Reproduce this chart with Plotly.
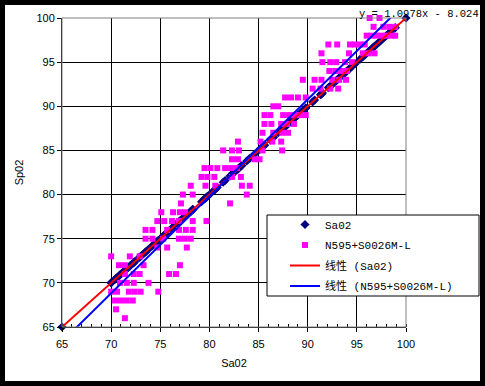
import plotly.graph_objects as go

# ---------------- data ----------------
# N595+S0026M-L : x = Sa02 reference value, y = SpO2 reading
n595_sa02 = [
    96.3, 97.3,
    96.7, 97.7, 98.3, 98.9,
    96.0, 96.5, 97.0, 97.5, 98.0, 98.5, 98.9,
    92.1, 93.0, 94.3, 94.8, 95.3, 95.8,
    91.4, 94.2, 95.6, 96.2, 96.8,
    91.5, 92.3, 92.9, 93.8, 94.5,
    92.2, 92.8, 93.4, 94.0,
    89.5, 90.7, 91.4, 92.5, 93.2, 93.9,
    90.5, 91.3, 92.3, 93.1,
    87.7, 88.3, 89.0, 89.8,
    86.5, 87.0,
    85.6, 86.2, 87.5, 88.1, 88.7, 89.3, 89.8,
    85.6, 86.3, 87.3, 87.9, 88.6,
    85.4, 86.5, 87.4, 88.0,
    82.9, 85.2, 86.4, 87.3,
    81.4, 82.3, 83.0, 85.4, 87.4,
    82.3, 82.9, 84.6, 85.1,
    79.5, 80.1, 80.8, 81.6, 82.2, 82.8,
    79.2, 79.8, 80.5, 82.3, 83.2,
    78.1, 79.6, 80.6, 83.3, 84.1,
    77.3, 78.3, 83.8,
    77.1, 82.1,
    75.1, 76.3, 77.0, 77.5,
    74.7, 75.4, 76.2, 76.9, 78.3, 79.7,
    73.5, 74.2, 75.7, 76.9, 77.6, 78.3,
    73.5, 74.2, 75.3, 76.9, 77.5, 78.1,
    74.7, 75.7, 77.7,
    70.0, 71.9, 72.9,
    70.8, 71.4, 73.3, 77.0,
    71.4, 72.3, 72.9, 75.9, 76.6,
    70.9, 71.6, 72.3, 73.8,
    70.0, 70.6, 71.8, 72.4, 73.0, 74.8,
    70.4, 71.0, 71.6, 72.2,
    70.5,
    71.4,
]
n595_spo2 = (
    [100] * 2 + [99] * 4 + [98] * 7 + [97] * 6 + [96] * 5 + [95] * 5 + [94] * 4
    + [93] * 6 + [92] * 4 + [91] * 4 + [90] * 2 + [89] * 7 + [88] * 5 + [87] * 4
    + [86] * 4 + [85] * 5 + [84] * 4 + [83] * 6 + [82] * 5 + [81] * 5 + [80] * 3
    + [79] * 2 + [78] * 4 + [77] * 6 + [76] * 6 + [75] * 6 + [74] * 3 + [73] * 3
    + [72] * 4 + [71] * 5 + [70] * 4 + [69] * 6 + [68] * 4 + [67] * 1 + [66] * 1
)

# Sa02 plotted against itself (reference series), plus the two end points
sa02_ends = [65.0, 100.0]
sa02_x = sorted(sa02_ends + n595_sa02)
sa02_y = list(sa02_x)

# linear trend lines (coefficients as printed on the chart)
fit_sa02_slope, fit_sa02_icept = 1.0, 0.0
fit_n595_slope, fit_n595_icept = 1.0978, -8.024
fit_x = [65.0, 100.0]

ticks = [65, 70, 75, 80, 85, 90, 95, 100]

names = ["Sa02", "N595+S0026M-L", "线性 (Sa02)", "线性 (N595+S0026M-L)"]
equation = "y = 1.0978x - 8.024"

# ---------------- figure ----------------
W, H = 485, 386
L, R, T, B = 62, 79, 18, 59
pw, ph = W - L - R, H - T - B


def px(x):
    return (x - L) / pw


def py(y):
    return (H - B - y) / ph


mono = "Liberation Mono, Noto Sans CJK SC, monospace"
sans = "Liberation Sans, Arial, sans-serif"

fig = go.Figure()
fig.add_trace(go.Scatter(
    x=sa02_x, y=sa02_y, mode="markers", name=names[0], legendgroup="a",
    marker=dict(symbol="diamond", size=7, color="#000080"), cliponaxis=False))
fig.add_trace(go.Scatter(
    x=n595_sa02, y=n595_spo2, mode="markers", name=names[1], legendgroup="b",
    marker=dict(symbol="square", size=6, color="#FF00FF"), cliponaxis=False))
fig.add_trace(go.Scatter(
    x=fit_x, y=[fit_sa02_slope * v + fit_sa02_icept for v in fit_x],
    mode="lines", name=names[2], legendgroup="c",
    line=dict(color="#FF0000", width=2)))
fig.add_trace(go.Scatter(
    x=fit_x, y=[fit_n595_slope * v + fit_n595_icept for v in fit_x],
    mode="lines", name=names[3], legendgroup="d",
    line=dict(color="#0000FF", width=2)))

axis_common = dict(
    range=[65, 100], tickvals=ticks, showgrid=True, gridcolor="#000000",
    gridwidth=1, showline=True, linecolor="#000000", linewidth=1,
    ticks="outside", ticklen=4, tickcolor="#000000", zeroline=False,
    tickfont=dict(family=sans, size=11, color="#000000"),
)
fig.update_xaxes(
    **axis_common,
    ticklabelstandoff=3,
    title=dict(text="Sa02", font=dict(family=sans, size=11, color="#000000"), standoff=10),
    minor=dict(ticks="inside", dtick=1, ticklen=3, tickcolor="#000000", showgrid=False),
)
fig.update_yaxes(
    **axis_common,
    title=dict(text="Sp02", font=dict(family=sans, size=11, color="#000000"), standoff=10),
)

shapes = [
    # white chart area inside the black frame
    dict(type="rect", xref="paper", yref="paper", layer="below",
         x0=px(5), x1=px(480), y0=py(381), y1=py(5),
         fillcolor="#FFFFFF", line=dict(width=0)),
    # plot-area border (top/right)
    dict(type="rect", xref="paper", yref="paper", layer="above",
         x0=0, x1=1, y0=0, y1=1, line=dict(color="#808080", width=1)),
    # legend box
    dict(type="rect", xref="paper", yref="paper", layer="above",
         x0=px(267), x1=px(479), y0=py(296), y1=py(215),
         fillcolor="#FFFFFF", line=dict(color="#000000", width=1)),
]

fig.update_layout(
    width=W, height=H,
    margin=dict(l=L, r=R, t=T, b=B, pad=0),
    paper_bgcolor="#000000",
    plot_bgcolor="#C0C0C0",
    shapes=shapes,
    showlegend=True,
    legend=dict(
        x=px(285), y=py(210), xanchor="left", yanchor="top",
        bgcolor="rgba(0,0,0,0)", borderwidth=0,
        font=dict(family=mono, size=11, color="#000000"),
        tracegroupgap=1.5, itemwidth=30,
    ),
    annotations=[dict(
        text=equation, xref="paper", yref="paper",
        x=px(357), y=py(14), xanchor="left", yanchor="middle",
        showarrow=False, font=dict(family=mono, size=10.5, color="#000000"),
    )],
)

fig.write_html("out.html", config={"displayModeBar": False},
               post_script="document.body.style.margin='0';")
